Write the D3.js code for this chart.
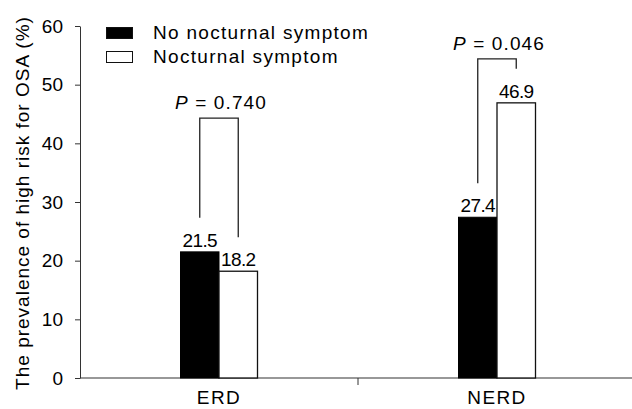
<!DOCTYPE html>
<html lang="en">
<head>
<meta charset="UTF-8">
<title>High risk for OSA by nocturnal symptom</title>
<script src="https://cdnjs.cloudflare.com/ajax/libs/d3/7.8.5/d3.min.js"></script>
<style>
  body { margin: 0; background: #fff; }
  svg text { font-family: 'Liberation Sans', Arial, sans-serif; fill: #000; }
</style>
</head>
<body>
<div id="chart"></div>
<script>
// data
const groups = ["ERD", "NERD"];
const seriesNames = ["No nocturnal symptom", "Nocturnal symptom"];
const noNocturnal = [21.5, 27.4];
const nocturnal = [18.2, 46.9];
const pValues = ["0.740", "0.046"];
const bracketLevel = [44.3, 54.4];   // height of the P bracket, in % units
const yTicks = [0, 10, 20, 30, 40, 50, 60];

const W = 632, H = 409;
const svg = d3.select("#chart").append("svg")
    .attr("width", W).attr("height", H);

const x = d3.scaleBand().domain(groups).range([80, 636]).paddingInner(0).paddingOuter(0);
const y = d3.scaleLinear().domain([0, 60]).range([378, 26]);
const barW = 38.5;

// y axis
const yAxis = svg.append("g")
    .attr("transform", "translate(80,0)")
    .call(d3.axisLeft(y).tickValues(yTicks).tickSize(5).tickPadding(12).tickSizeOuter(0));
yAxis.select(".domain").attr("stroke", "#333");
yAxis.selectAll(".tick line").attr("stroke", "#333");
yAxis.selectAll("text").attr("font-size", 19).attr("fill", "#000")
    .style("font-family", "'Liberation Sans', Arial, sans-serif");

// x axis: line, ticks on band boundaries, labels under band centres
svg.append("line")
    .attr("x1", 80).attr("x2", 636)
    .attr("y1", y(0)).attr("y2", y(0))
    .attr("stroke", "#333").attr("stroke-width", 1.2);
svg.selectAll(".xtick")
    .data(groups.slice(1))
    .join("line")
    .attr("class", "xtick")
    .attr("x1", d => x(d)).attr("x2", d => x(d))
    .attr("y1", y(0)).attr("y2", y(0) + 7)
    .attr("stroke", "#333");
svg.selectAll(".xlab")
    .data(groups)
    .join("text")
    .attr("class", "xlab")
    .attr("x", d => x(d) + x.bandwidth() / 2)
    .attr("y", 404)
    .attr("text-anchor", "middle")
    .attr("font-size", 19)
    .attr("letter-spacing", "1.4px")
    .text(d => d);

// y title
svg.append("text")
    .attr("transform", "translate(29,203) rotate(-90)")
    .attr("text-anchor", "middle")
    .attr("font-size", 19)
    .attr("letter-spacing", "1px")
    .text("The prevalence of high risk for OSA (%)");

// bars
const rows = groups.map((g, i) => ({ g, a: noNocturnal[i], b: nocturnal[i], p: pValues[i], lvl: bracketLevel[i] }));
const cx = d => x(d.g) + x.bandwidth() / 2;

const gBars = svg.append("g");
gBars.selectAll(".barA")
    .data(rows).join("rect")
    .attr("x", d => cx(d) - barW)
    .attr("y", d => y(d.a))
    .attr("width", barW)
    .attr("height", d => y(0) - y(d.a))
    .attr("fill", "#000").attr("stroke", "#000");
gBars.selectAll(".barB")
    .data(rows).join("rect")
    .attr("x", d => cx(d))
    .attr("y", d => y(d.b))
    .attr("width", barW)
    .attr("height", d => y(0) - y(d.b))
    .attr("fill", "#fff").attr("stroke", "#111").attr("stroke-width", 1.3);

// value labels
svg.selectAll(".labA").data(rows).join("text")
    .attr("x", d => cx(d) - barW / 2).attr("y", d => y(d.a) - 5)
    .attr("text-anchor", "middle").attr("font-size", 19)
    .attr("letter-spacing", "-0.6px")
    .text(d => d.a.toFixed(1));
svg.selectAll(".labB").data(rows).join("text")
    .attr("x", d => cx(d) + barW / 2).attr("y", d => y(d.b) - 5)
    .attr("text-anchor", "middle").attr("font-size", 19)
    .attr("letter-spacing", "-0.6px")
    .text(d => d.b.toFixed(1));

// P brackets
svg.selectAll(".bracket").data(rows).join("path")
    .attr("fill", "none").attr("stroke", "#222").attr("stroke-width", 1.3)
    .attr("d", d => {
        const x1 = cx(d) - barW / 2, x2 = cx(d) + barW / 2;
        const top = y(d.lvl);
        return `M${x1},${y(d.a) - 34}V${top}H${x2}V${y(d.b) - 34}`;
    });
const pt = svg.selectAll(".plab").data(rows).join("text")
    .attr("x", d => cx(d) + 2).attr("y", d => y(d.lvl) - 9)
    .attr("text-anchor", "middle").attr("font-size", 19)
    .attr("letter-spacing", "1.1px");
pt.append("tspan").attr("font-style", "italic").text("P");
pt.append("tspan").text(d => " = " + d.p);

// legend
const leg = svg.append("g");
const legColors = ["#000", "#fff"];
seriesNames.forEach((s, i) => {
    const yy = 27 + i * 24;
    leg.append("rect")
        .attr("x", 106.5).attr("y", yy + 0.5)
        .attr("width", 26).attr("height", 11)
        .attr("fill", legColors[i]).attr("stroke", "#111");
    leg.append("text")
        .attr("x", 153).attr("y", yy + 11.5)
        .attr("font-size", 19)
        .attr("letter-spacing", "1.3px")
        .text(s);
});
</script>
</body>
</html>
